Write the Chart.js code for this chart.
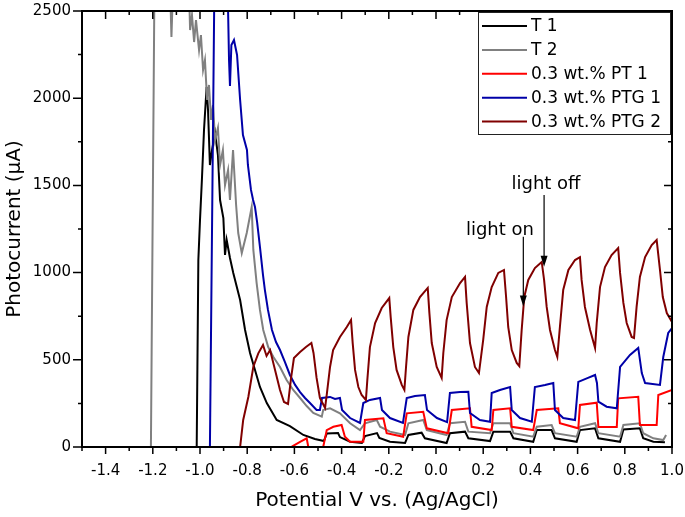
<!DOCTYPE html>
<html>
<head>
<meta charset="utf-8">
<script src="https://cdn.jsdelivr.net/npm/chart.js@4.4.1/dist/chart.umd.min.js"></script>
<style>
  html, body { margin: 0; padding: 0; background: #fff; }
  #wrap { width: 685px; height: 517px; }
</style>
</head>
<body>
<div id="wrap"><canvas id="photoChart" width="685" height="517"></canvas></div>
<script>
// tick positions
const xTicks = [-1.4, -1.2, -1.0, -0.8, -0.6, -0.4, -0.2, 0.0, 0.2, 0.4, 0.6, 0.8, 1.0];
const yTicks = [0, 500, 1000, 1500, 2000, 2500];

const seriesNames = ['T 1', 'T 2', '0.3 wt.% PT 1', '0.3 wt.% PTG 1', '0.3 wt.% PTG 2'];
const seriesColors = ['#000000', '#808080', '#ff0000', '#0000a8', '#800000'];

// [potential (V), photocurrent (uA)]
const t1 = [[-1.014,0],[-1.007,1072],[-1.000,1302],[-0.992,1531],[-0.983,1818],[-0.972,2064],[-0.966,1932],[-0.958,1617],
  [-0.949,1703],[-0.936,1800],[-0.924,1674],[-0.915,1416],[-0.901,1313],[-0.894,1101],[-0.887,1187],[-0.873,1084],
  [-0.859,998],[-0.830,843],[-0.809,671],[-0.788,539],[-0.767,442],[-0.746,344],[-0.717,252],[-0.675,155],[-0.619,120],
  [-0.562,69],[-0.513,46],[-0.475,34],[-0.463,77],[-0.415,80],[-0.407,57],[-0.364,30],[-0.314,23],[-0.301,63],
  [-0.250,80],[-0.240,52],[-0.195,30],[-0.131,23],[-0.117,69],[-0.061,82],[-0.047,50],[0.045,23],[0.059,79],
  [0.123,88],[0.137,50],[0.229,34],[0.243,88],[0.314,88],[0.328,50],[0.412,30],[0.427,97],[0.490,97],[0.504,50],
  [0.596,30],[0.610,97],[0.674,107],[0.688,50],[0.780,30],[0.794,101],[0.864,107],[0.878,50],[0.921,30],[0.970,27]];

const t2 = [[-1.208,0],[-1.193,2650],[-1.127,2650],[-1.121,2351],[-1.114,2650],[-1.047,2650],[-1.042,2391],[-1.034,2477],
  [-1.025,2322],[-1.017,2448],[-1.004,2276],[-0.996,2362],[-0.987,2162],[-0.979,2219],[-0.970,1990],[-0.962,2076],
  [-0.953,1875],[-0.945,1961],[-0.936,1760],[-0.924,1829],[-0.915,1617],[-0.903,1703],[-0.894,1502],[-0.881,1588],
  [-0.873,1416],[-0.860,1703],[-0.847,1388],[-0.838,1227],[-0.823,1112],[-0.802,1227],[-0.781,1376],[-0.774,1130],
  [-0.760,940],[-0.746,786],[-0.732,671],[-0.711,573],[-0.689,516],[-0.661,459],[-0.633,384],[-0.605,327],[-0.576,281],
  [-0.548,235],[-0.520,195],[-0.484,174],[-0.478,212],[-0.449,222],[-0.407,193],[-0.364,136],[-0.322,97],[-0.301,136],
  [-0.251,155],[-0.237,116],[-0.195,88],[-0.131,69],[-0.117,136],[-0.054,155],[-0.039,97],[0.045,69],[0.059,136],
  [0.123,145],[0.137,88],[0.229,79],[0.243,136],[0.314,136],[0.328,79],[0.412,59],[0.427,116],[0.490,126],[0.504,79],
  [0.596,59],[0.610,116],[0.674,136],[0.688,79],[0.780,59],[0.794,126],[0.864,136],[0.878,79],[0.921,50],[0.963,40],
  [0.975,69]];

const pt1 = [[-1.5,0],[-0.623,0],[-0.611,2],[-0.576,30],[-0.548,50],[-0.541,0],[-0.478,0],[-0.463,97],[-0.435,116],
  [-0.400,126],[-0.386,59],[-0.364,30],[-0.308,30],[-0.301,155],[-0.223,165],[-0.209,79],[-0.139,59],[-0.124,193],
  [-0.054,202],[-0.039,107],[0.052,79],[0.067,212],[0.144,222],[0.151,116],[0.236,97],[0.243,212],[0.314,222],
  [0.321,116],[0.412,97],[0.427,212],[0.518,222],[0.525,136],[0.603,107],[0.610,241],[0.681,254],[0.688,115],
  [0.766,115],[0.772,279],[0.857,288],[0.864,126],[0.935,126],[0.942,298],[1.0,327]];

const ptg1 = [[-0.958,0],[-0.939,2650],[-0.890,2650],[-0.881,2500],[-0.877,2219],[-0.873,2070],[-0.867,2305],[-0.856,2334],
  [-0.843,2248],[-0.830,1990],[-0.818,1789],[-0.801,1703],[-0.797,1617],[-0.784,1474],[-0.775,1416],[-0.767,1376],
  [-0.758,1290],[-0.746,1147],[-0.733,986],[-0.725,900],[-0.712,786],[-0.695,671],[-0.678,602],[-0.661,556],
  [-0.640,487],[-0.619,413],[-0.597,356],[-0.576,315],[-0.555,281],[-0.534,252],[-0.506,212],[-0.492,212],[-0.483,281],
  [-0.449,287],[-0.428,275],[-0.407,281],[-0.398,212],[-0.364,166],[-0.322,138],[-0.308,252],[-0.280,270],[-0.237,281],
  [-0.229,212],[-0.195,166],[-0.140,138],[-0.124,281],[-0.089,292],[-0.047,298],[-0.038,212],[0.004,166],[0.047,143],
  [0.059,310],[0.102,315],[0.137,317],[0.144,195],[0.186,155],[0.229,145],[0.236,310],[0.271,327],[0.314,344],
  [0.321,212],[0.356,166],[0.406,145],[0.419,344],[0.462,356],[0.497,367],[0.504,212],[0.539,166],[0.589,155],
  [0.603,373],[0.644,396],[0.674,413],[0.682,367],[0.688,260],[0.723,231],[0.766,222],[0.780,459],[0.822,528],
  [0.857,568],[0.872,424],[0.886,367],[0.949,356],[0.963,516],[0.984,654],[1.0,682]];

const ptg2 = [[-0.830,0],[-0.817,155],[-0.795,288],[-0.774,460],[-0.753,537],[-0.733,585],[-0.718,522],[-0.703,556],
  [-0.682,442],[-0.661,327],[-0.644,258],[-0.627,247],[-0.614,396],[-0.602,510],[-0.576,545],[-0.551,573],[-0.528,596],
  [-0.519,539],[-0.506,396],[-0.492,281],[-0.470,224],[-0.462,310],[-0.449,459],[-0.436,556],[-0.407,631],[-0.378,688],
  [-0.360,728],[-0.353,596],[-0.343,442],[-0.329,344],[-0.315,298],[-0.297,270],[-0.291,384],[-0.280,573],[-0.258,711],
  [-0.230,797],[-0.198,854],[-0.192,745],[-0.181,573],[-0.167,442],[-0.145,356],[-0.134,327],[-0.127,459],[-0.117,631],
  [-0.096,786],[-0.068,860],[-0.035,912],[-0.028,768],[-0.018,596],[0.003,459],[0.024,396],[0.031,539],[0.045,728],
  [0.067,860],[0.102,940],[0.123,975],[0.130,826],[0.144,596],[0.165,459],[0.182,424],[0.200,614],[0.215,803],
  [0.236,917],[0.264,998],[0.288,1015],[0.297,860],[0.306,688],[0.321,556],[0.342,482],[0.353,464],[0.363,671],
  [0.374,860],[0.391,958],[0.419,1026],[0.448,1061],[0.458,958],[0.469,803],[0.483,671],[0.504,556],[0.514,516],
  [0.525,688],[0.539,900],[0.561,1015],[0.589,1072],[0.610,1089],[0.617,958],[0.631,803],[0.653,671],[0.674,568],
  [0.681,711],[0.695,917],[0.716,1032],[0.744,1101],[0.772,1141],[0.780,998],[0.794,826],[0.808,711],[0.829,631],
  [0.839,625],[0.850,803],[0.864,975],[0.886,1089],[0.914,1158],[0.935,1187],[0.949,1015],[0.961,860],[0.978,768],
  [1.0,717]];

const allSeries = [t1, t2, pt1, ptg1, ptg2];

// "light on" / "light off" notes: text anchor and arrow, in data units
const lightOn = { text: 'light on', tx: 0.271, ty: 1218, ax: 0.370, from: 1206, to: 805 };
const lightOff = { text: 'light off', tx: 0.466, ty: 1479, ax: 0.458, from: 1445, to: 1034 };

const FONT = '"DejaVu Sans", sans-serif';

document.addEventListener('DOMContentLoaded', function () {
    Chart.defaults.color = '#000';
    Chart.defaults.font.family = FONT;

    // box frame + ticks (out on bottom/left, in on top/right)
    const frameTicks = {
        id: 'frameTicks',
        afterDatasetsDraw(chart) {
            const { ctx, chartArea: a } = chart;
            const xs = chart.scales.x, ys = chart.scales.y;
            ctx.save();
            ctx.strokeStyle = '#000';
            ctx.lineWidth = 2;
            ctx.strokeRect(a.left, a.top, a.right - a.left, a.bottom - a.top);
            ctx.lineWidth = 1.5;
            ctx.beginPath();
            const mark = (x1, y1, x2, y2) => { ctx.moveTo(x1, y1); ctx.lineTo(x2, y2); };
            xTicks.forEach(v => {
                let p = xs.getPixelForValue(v);
                mark(p, a.bottom, p, a.bottom + 7);
                mark(p, a.top, p, a.top + 8);
                p = xs.getPixelForValue(v - 0.1);
                mark(p, a.bottom, p, a.bottom + 4);
                mark(p, a.top, p, a.top + 4);
            });
            yTicks.forEach(v => {
                let p = ys.getPixelForValue(v);
                mark(a.left, p, a.left - 9, p);
                mark(a.right, p, a.right - 8, p);
                if (v > 0) {
                    p = ys.getPixelForValue(v - 250);
                    mark(a.left, p, a.left - 4, p);
                    mark(a.right, p, a.right - 4, p);
                }
            });
            ctx.stroke();
            ctx.restore();
        }
    };

    const legendBox = {
        id: 'legendBox',
        afterDraw(chart) {
            const { ctx, chartArea: a } = chart;
            const w = 192, h = 122;
            const left = a.right - w - 2, top = a.top + 1;
            ctx.save();
            ctx.fillStyle = '#fff';
            ctx.fillRect(left, top, w, h);
            ctx.strokeStyle = '#222';
            ctx.lineWidth = 1;
            ctx.strokeRect(left + 0.5, top + 0.5, w, h);
            ctx.font = '17px ' + FONT;
            ctx.textAlign = 'left';
            ctx.textBaseline = 'middle';
            chart.data.datasets.forEach((ds, i) => {
                const yy = top + 14 + i * 23.9;
                ctx.strokeStyle = ds.borderColor;
                ctx.lineWidth = 2;
                ctx.beginPath();
                ctx.moveTo(left + 4, yy);
                ctx.lineTo(left + 49, yy);
                ctx.stroke();
                ctx.fillStyle = '#000';
                ctx.fillText(ds.label, left + 53, yy + 1);
            });
            ctx.restore();
        }
    };

    const lightNotes = {
        id: 'lightNotes',
        afterDraw(chart) {
            const { ctx } = chart;
            const xs = chart.scales.x, ys = chart.scales.y;
            ctx.save();
            ctx.fillStyle = '#000';
            ctx.strokeStyle = '#000';
            ctx.lineWidth = 1.2;
            ctx.font = '18px ' + FONT;
            ctx.textAlign = 'center';
            ctx.textBaseline = 'alphabetic';
            [lightOn, lightOff].forEach(n => {
                ctx.fillText(n.text, xs.getPixelForValue(n.tx), ys.getPixelForValue(n.ty));
                const x = xs.getPixelForValue(n.ax);
                const y1 = ys.getPixelForValue(n.from), y2 = ys.getPixelForValue(n.to);
                ctx.beginPath();
                ctx.moveTo(x, y1);
                ctx.lineTo(x, y2 - 9);
                ctx.stroke();
                ctx.beginPath();
                ctx.moveTo(x - 3.5, y2 - 11);
                ctx.lineTo(x + 3.5, y2 - 11);
                ctx.lineTo(x, y2);
                ctx.closePath();
                ctx.fill();
            });
            ctx.restore();
        }
    };

    const ctxPhoto = document.getElementById('photoChart').getContext('2d');
    new Chart(ctxPhoto, {
        type: 'scatter',
        data: {
            datasets: allSeries.map((pts, i) => ({
                label: seriesNames[i],
                data: pts.map(p => ({ x: p[0], y: p[1] })),
                showLine: true,
                borderColor: seriesColors[i],
                backgroundColor: seriesColors[i],
                borderWidth: 2,
                pointRadius: 0,
                tension: 0,
                order: 5 - i
            }))
        },
        options: {
            responsive: false,
            animation: false,
            devicePixelRatio: 1,
            layout: { padding: { top: 11, right: 13, left: 0, bottom: 0 } },
            plugins: {
                legend: { display: false },
                tooltip: { enabled: false }
            },
            scales: {
                x: {
                    type: 'linear',
                    min: -1.5,
                    max: 1.0,
                    afterBuildTicks: s => { s.ticks = xTicks.map(v => ({ value: v })); },
                    afterFit: s => { s.height = 70; s.paddingLeft = 0; s.paddingRight = 0; },
                    grid: { display: false, drawTicks: false },
                    border: { display: false },
                    ticks: {
                        font: { size: 15 },
                        padding: 15,
                        maxRotation: 0,
                        autoSkip: false,
                        callback: v => Number(v).toFixed(1)
                    },
                    title: {
                        display: true,
                        text: 'Potential V vs. (Ag/AgCl)',
                        font: { size: 20 },
                        padding: { top: 0, bottom: 4 }
                    }
                },
                y: {
                    type: 'linear',
                    min: 0,
                    max: 2500,
                    afterBuildTicks: s => { s.ticks = yTicks.map(v => ({ value: v })); },
                    afterFit: s => { s.width = 82; s.paddingTop = 0; s.paddingBottom = 0; },
                    grid: { display: false, drawTicks: false },
                    border: { display: false },
                    ticks: {
                        font: { size: 15 },
                        padding: 11,
                        callback: v => String(v)
                    },
                    title: {
                        display: true,
                        text: 'Photocurrent (μA)',
                        font: { size: 20 },
                        padding: { top: 3, bottom: 0 }
                    }
                }
            }
        },
        plugins: [frameTicks, legendBox, lightNotes]
    });
});
</script>
</body>
</html>
